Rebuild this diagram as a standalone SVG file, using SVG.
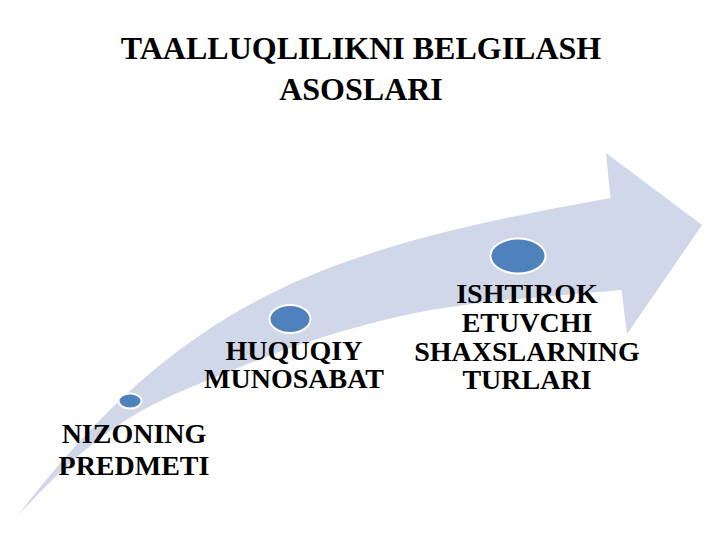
<svg xmlns="http://www.w3.org/2000/svg" width="720" height="540" viewBox="0 0 720 540">
<style>
.title{font-family:"Liberation Serif","Times New Roman",Times,serif;font-weight:bold;font-size:32px;fill:#000;text-anchor:middle}
.lbl{font-family:"Liberation Serif","Times New Roman",Times,serif;font-weight:bold;font-size:28px;fill:#000;text-anchor:middle}
.dot{fill:#4F81BD;stroke:#FFFFFF;stroke-width:2}
</style>
<rect width="720" height="540" fill="#FFFFFF"/>
<g id="title">
<text class="title" x="361" y="59">TAALLUQLILIKNI BELGILASH</text>
<text class="title" x="361" y="100">ASOSLARI</text>
</g>
<g id="connectors">
<path id="arrow" fill="#D0D7E8" d="M18,515 C188,294 330,248.4 610.5,198 L606,153 L702,225 L627,334 L621.5,290 C592.5,292.8 498,299.7 450,307 C402,314.3 369.2,323.5 333,334 C296.8,344.5 264.7,357.3 233,370 C201.3,382.7 169,395.5 143,410 C117,424.5 97.8,439.5 77,457 C56.2,474.5 27.8,505.3 18,515 Z"/>
</g>
<g id="node1">
<ellipse class="dot" cx="130" cy="401" rx="11.5" ry="7.5"/>
<text class="lbl" x="134" y="443">NIZONING</text>
<text class="lbl" x="134" y="475">PREDMETI</text>
</g>
<g id="node2">
<ellipse class="dot" cx="290" cy="319" rx="20.5" ry="14"/>
<text class="lbl" x="294" y="360">HUQUQIY</text>
<text class="lbl" x="294" y="388">MUNOSABAT</text>
</g>
<g id="node3">
<ellipse class="dot" cx="518" cy="256" rx="27.5" ry="17.5"/>
<text class="lbl" x="527" y="303">ISHTIROK</text>
<text class="lbl" x="527" y="332">ETUVCHI</text>
<text class="lbl" x="527" y="361">SHAXSLARNING</text>
<text class="lbl" x="527" y="389">TURLARI</text>
</g>
</svg>
